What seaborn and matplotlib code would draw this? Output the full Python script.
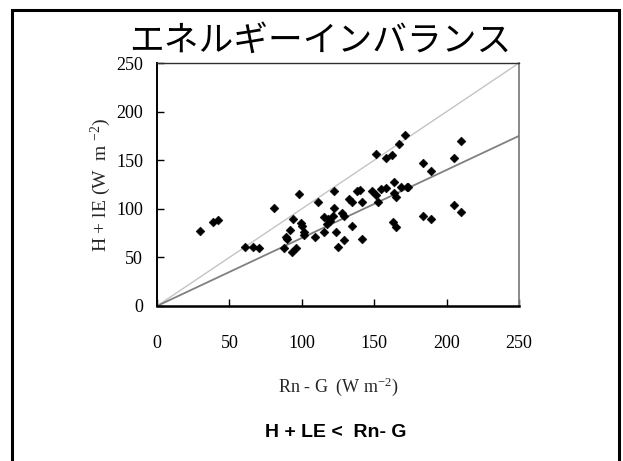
import matplotlib
matplotlib.use("Agg")
import matplotlib.pyplot as plt
from matplotlib.patches import Rectangle
import seaborn as sns
import pandas as pd

# Available energy (Rn - G) and measured turbulent flux (H + lE), W m-2
rn_g = [30, 38.5, 42, 61, 66, 70.5, 81, 98.3, 94, 91.7, 89.3, 89.5, 87.5, 93,
        96.3, 99.3, 100.4, 101.5, 101.4, 109.1, 111, 171.5, 167, 151, 158.2,
        162.5, 122.5, 132.8, 135, 138.4, 140, 141.6, 148.5, 151.2, 152.5,
        154.7, 157.9, 163.9, 163.7, 165.3, 168.5, 172.4, 173.5, 122.2, 115,
        121.3, 118, 119.5, 117.2, 127.5, 129, 134.7, 123.4, 115.3, 163.2, 165,
        141.6, 128.8, 125.2, 210.2, 184, 189.4, 205, 205, 210.2, 184, 189.4]
h_le = [77, 86, 88, 61, 61, 60, 100.5, 115.5, 90, 78.7, 71, 68.6, 60, 56,
        60, 85, 82.6, 76, 73, 71, 107, 176, 166.7, 156.7, 152.6,
        155, 118.5, 110, 107, 118, 119.7, 107.3, 118.6, 114, 107,
        120.7, 121.4, 128, 116, 112.4, 122.4, 122.7, 122.7, 101, 91.7,
        93, 89.5, 87.4, 84, 95.7, 92.6, 82.6, 75.8, 75.8, 86.7, 81,
        69, 67.5, 60.2, 170, 146.8, 138.6, 152.6, 103.6, 96.7, 92.6, 89.2]

# Reference lines: 1:1 closure and the fitted slope through the origin
line_x = [0, 250]
one_to_one_y = [0, 250]
fit_y = [0, 175]

axis_ticks = [0, 50, 100, 150, 200, 250]

points = pd.DataFrame({"rn_g": rn_g, "h_le": h_le})

sns.set_style("white")
serif = ["Liberation Serif", "DejaVu Serif"]
plt.rcParams["mathtext.fontset"] = "custom"
plt.rcParams["mathtext.rm"] = "Liberation Serif"
plt.rcParams["mathtext.it"] = "Liberation Serif:italic"

fig = plt.figure(figsize=(6.23, 4.61), dpi=100)
ax = fig.add_axes([157 / 623, 1 - 306 / 461, 362 / 623, 243 / 461])

sns.lineplot(x=line_x, y=one_to_one_y, ax=ax, color="#c4c4c4", linewidth=1.0,
             zorder=1)
sns.lineplot(x=line_x, y=fit_y, ax=ax, color="#808080", linewidth=1.3,
             zorder=1)
sns.scatterplot(data=points, x="rn_g", y="h_le", ax=ax, marker="D", s=20,
                color="black", edgecolor="black", linewidth=0.4, zorder=3)

ax.set_xlim(0, 250)
ax.set_ylim(0, 250)
ax.set_xticks(axis_ticks)
ax.set_yticks(axis_ticks)
ax.set_xticklabels([str(t) for t in axis_ticks], family=serif, fontsize=13)
ax.set_yticklabels([str(t) for t in axis_ticks], family=serif, fontsize=13)
ax.tick_params(axis="x", direction="in", length=5, width=1, pad=21,
               bottom=True, colors="black")
ax.tick_params(axis="y", direction="in", length=5, width=1, pad=10,
               left=True, colors="black")

ax.set_xlabel(r"Rn - G  (W m$^{\mathrm{-2}}$)", family=serif, fontsize=13,
              labelpad=17)
ax.set_ylabel(r"H + lE (W  m $^{\mathrm{-2}}$)", family=serif, fontsize=14,
              labelpad=2)

for side, (lw, col) in {"left": (1.4, "black"), "bottom": (1.8, "black"),
                        "top": (1.0, "#303030"), "right": (1.3, "#808080")}.items():
    ax.spines[side].set_visible(True)
    ax.spines[side].set_linewidth(lw)
    ax.spines[side].set_color(col)

fig.text(320 / 623, 1 - 41 / 461, "エネルギーインバランス",
         family=["Noto Sans CJK JP", "DejaVu Sans"], fontsize=25,
         ha="center", va="center", color="black")
fig.text(336 / 623, 1 - 432 / 461, "H + LE <  Rn- G",
         family=["Liberation Sans", "DejaVu Sans"], fontsize=14,
         fontweight="bold", ha="center", va="center", color="black")

frame = Rectangle((12 / 623, -0.05), (619 - 12) / 623, (461 - 10) / 461 + 0.05,
                  transform=fig.transFigure, fill=False, edgecolor="black",
                  linewidth=2.2, clip_on=False)
fig.add_artist(frame)

fig.savefig("out.png", dpi=100, facecolor="white")
